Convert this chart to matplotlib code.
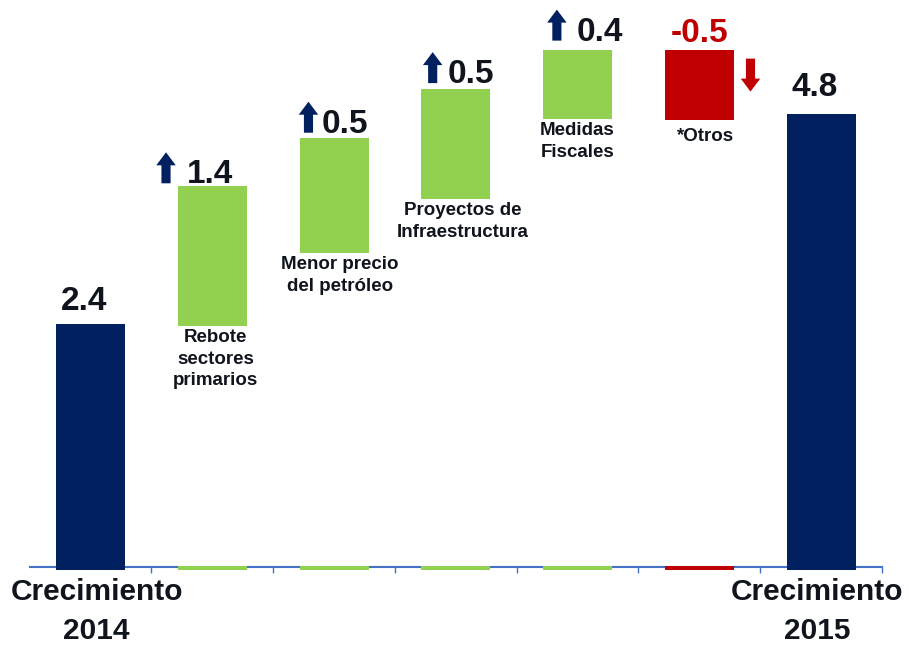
import matplotlib
matplotlib.use("Agg")
import matplotlib.pyplot as plt
from matplotlib.patches import FancyArrow

plt.rcParams['font.family'] = ['Liberation Sans', 'DejaVu Sans']
plt.rcParams['font.weight'] = 'bold'

# data (bar extents as drawn in the original slide)
labels = ["Crecimiento\n2014", "Rebote\nsectores\nprimarios", "Menor precio\ndel petróleo",
          "Proyectos de\nInfraestructura", "Medidas\nFiscales", "*Otros", "Crecimiento\n2015"]
values = [2.4, 1.4, 0.5, 0.5, 0.4, -0.5, 4.8]
bar_bottom = [0.0, 2.38, 3.10, 3.63, 4.42, 4.41, 0.0]
bar_top = [2.4, 3.76, 4.24, 4.72, 5.11, 5.11, 4.47]

NAVY = "#002060"
GREEN = "#92d050"
RED = "#c00000"
TXT = "#10141c"
AXBLUE = "#4472c4"

colors = [NAVY, GREEN, GREEN, GREEN, GREEN, RED, NAVY]
val_dx = [-0.05, -0.02, 0.09, 0.12, 0.18, 0.0, -0.05]   # label shift from bar centre
val_gap = [14, 3, 5, 6, 9, 8, 18]                        # px above bar top
arrow_dx = [None, -0.38, -0.21, -0.19, -0.17, 0.42, None]
cat_dx = [0.05, 0.03, 0.05, 0.06, 0.0, 0.05, -0.03]


def main():
    fig = plt.figure(figsize=(9.09, 6.45), dpi=100)
    ax = fig.add_axes([0.0326, 0.1209, 0.9377, 0.8791])
    ax.set_xlim(-0.5, 6.5)
    ax.set_ylim(0, 5.6)
    pxy = 5.6 / 567.0  # data units per pixel (y)

    x = list(range(len(values)))
    heights = [t - b for t, b in zip(bar_top, bar_bottom)]
    ax.bar(x, heights, bottom=bar_bottom, width=0.567, color=colors, zorder=3)
    # little stubs sitting on the axis line
    ax.bar(x[1:-1], [0.04] * 5, bottom=-0.025, width=0.567, color=colors[1:-1],
           zorder=3, clip_on=False)
    ax.bar([0, 6], [0.03, 0.03], bottom=-0.025, width=0.567, color=NAVY, zorder=3, clip_on=False)

    for i, v in enumerate(values):
        col = RED if v < 0 else TXT
        base = bar_top[i] + val_gap[i] * pxy
        ax.text(i + val_dx[i], base, f"{v:.1f}", ha='center', va='baseline',
                fontsize=24, fontweight='bold', color=col)
        if arrow_dx[i] is not None:
            if v > 0:
                ax.add_patch(FancyArrow(i + arrow_dx[i], base, 0, 31 * pxy, width=0.075,
                                        head_width=0.16, head_length=13 * pxy,
                                        length_includes_head=True, color=NAVY, lw=0, zorder=4))
            else:
                ax.add_patch(FancyArrow(i + arrow_dx[i], base - 17 * pxy, 0, -33 * pxy,
                                        width=0.075, head_width=0.16, head_length=13 * pxy,
                                        length_includes_head=True, color=RED, lw=0, zorder=4))

    # category labels
    for i in range(1, 6):
        off = (8 if i == 5 else 3) * pxy
        ax.text(i + cat_dx[i], bar_bottom[i] - off, labels[i], ha='center', va='top',
                fontsize=13.5, fontweight='bold', color=TXT, linespacing=1.35)
    for i in (0, 6):
        ax.text(i + cat_dx[i], -0.11, labels[i], ha='center', va='top', fontsize=21.5,
                fontweight='bold', color=TXT, clip_on=False, linespacing=1.5)

    for s in ('top', 'left', 'right'):
        ax.spines[s].set_visible(False)
    ax.spines['bottom'].set_color(AXBLUE)
    ax.spines['bottom'].set_linewidth(1.5)
    ax.set_yticks([])
    ax.set_xticks([i + 0.5 for i in range(7)])
    ax.tick_params(axis='x', direction='out', length=4, width=1, color=AXBLUE, labelbottom=False)

    fig.savefig("out.png", dpi=100)


if __name__ == "__main__":
    main()
